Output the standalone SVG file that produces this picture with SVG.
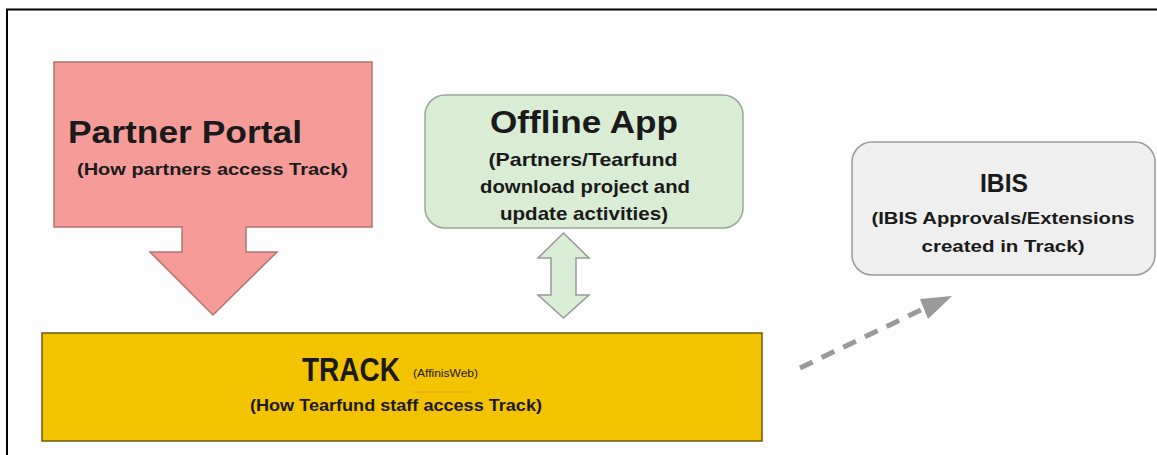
<svg xmlns="http://www.w3.org/2000/svg" width="1157" height="455" viewBox="0 0 1157 455">
<style>
text{font-family:"Liberation Sans",Arial,sans-serif;font-weight:bold;fill:#1a1a1a}
.t{font-size:31px}
.s{font-size:17px}
.o{font-size:19px}
.m{text-anchor:middle}
</style>
<rect x="0" y="0" width="1157" height="455" fill="#fdfdfd"/>
<path d="M7,455 V9.5 H1157" fill="none" stroke="#000" stroke-width="2"/>
<g id="partner-portal">
<path d="M54,62 H372 V227 H246 V252 H277 L213,315 L150,252 H182 V227 H54 Z" fill="#f59b98" stroke="#b27572" stroke-width="1.5"/>
<text class="t" x="68" y="143" textLength="234" lengthAdjust="spacingAndGlyphs">Partner Portal</text>
<text class="s" x="77" y="175" textLength="271" lengthAdjust="spacingAndGlyphs">(How partners access Track)</text>
</g>
<g id="offline-app">
<rect x="425" y="95" width="318" height="133" rx="20" fill="#d9ecd4" stroke="#9aa59a" stroke-width="1.5"/>
<text class="t m" x="584" y="133" textLength="188" lengthAdjust="spacingAndGlyphs">Offline App</text>
<text class="o m" x="583" y="166" textLength="189" lengthAdjust="spacingAndGlyphs">(Partners/Tearfund</text>
<text class="o m" x="585" y="193" textLength="210" lengthAdjust="spacingAndGlyphs">download project and</text>
<text class="o m" x="584" y="220" textLength="168" lengthAdjust="spacingAndGlyphs">update activities)</text>
</g>
<g id="ibis">
<rect x="852" y="142" width="303" height="133" rx="20" fill="#efefef" stroke="#9a9a9a" stroke-width="1.5"/>
<text class="m" x="1004" y="192" style="font-size:25px" textLength="48" lengthAdjust="spacingAndGlyphs">IBIS</text>
<text class="s m" x="1003" y="224" textLength="263" lengthAdjust="spacingAndGlyphs">(IBIS Approvals/Extensions</text>
<text class="s m" x="1003" y="252" textLength="163" lengthAdjust="spacingAndGlyphs">created in Track)</text>
</g>
<g id="track">
<rect x="42" y="333" width="720" height="108" fill="#f4c300" stroke="#6b5a10" stroke-width="1.5"/>
<text x="302" y="381" style="font-size:33px" textLength="98" lengthAdjust="spacingAndGlyphs">TRACK</text>
<text x="413" y="377" style="font-size:10px;font-weight:normal" textLength="65" lengthAdjust="spacingAndGlyphs">(AffinisWeb)</text>
<line x1="413" y1="392" x2="470" y2="392" stroke="#e0894a" stroke-width="1" opacity="0.6"/>
<text class="s" x="250" y="411" textLength="292" lengthAdjust="spacingAndGlyphs">(How Tearfund staff access Track)</text>
</g>
<g id="connectors">
<path d="M563.5,233 L589,258 H576 V295 H589 L563.5,318 L538,295 H551 V258 H538 Z" fill="#d9ecd4" stroke="#999" stroke-width="1.5"/>
<line x1="800" y1="368" x2="925" y2="308" stroke="#9a9a9a" stroke-width="5" stroke-dasharray="14,10"/>
<path d="M920,299 L952,296 L928,319 Z" fill="#9a9a9a"/>
</g>
</svg>
